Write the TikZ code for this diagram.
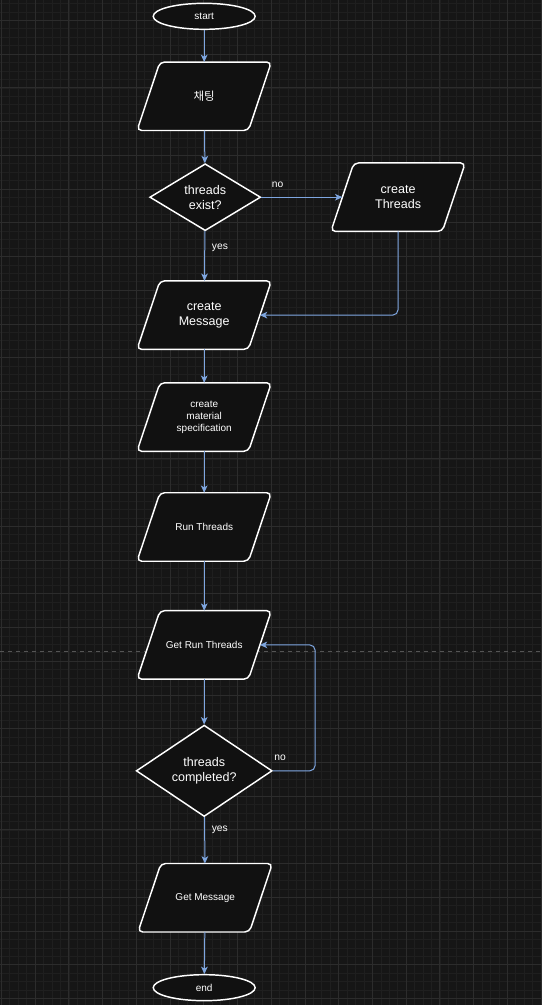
\documentclass[tikz,border=0pt]{standalone}
\usepackage{fontspec}
\setmainfont{Liberation Sans}
\newfontfamily\kofont{Noto Sans CJK KR}
\usetikzlibrary{shapes.geometric,arrows.meta}
\definecolor{canvas}{HTML}{161616}
\definecolor{gridminor}{HTML}{1F1F1F}
\definecolor{gridmajor}{HTML}{2C2C2C}
\definecolor{nodefill}{HTML}{111111}
\definecolor{flowblue}{HTML}{7EA6E0}
\definecolor{pagebreak}{HTML}{555555}
\pgfdeclarelayer{sheet}
\pgfdeclarelayer{boxes}
\pgfsetlayers{sheet,boxes,main}

\begin{document}
\begin{tikzpicture}[
    x=0.75pt, y=-0.75pt,     % one unit is one pixel of the reference
    every node/.style={text=white, align=center, inner sep=0pt},
    big/.style={font=\fontsize{9.4}{11.25}\selectfont},
    small/.style={font=\fontsize{7.5}{9}\selectfont},
    terminal/.style={ellipse, draw=white, fill=nodefill, line width=1.1pt,
        minimum width=76.5pt, minimum height=19.5pt, small},
    iobox/.style={rectangle, minimum width=83.25pt, minimum height=51pt},  % mid-height size, outline drawn below
    iooutline/.style={draw=white, fill=nodefill, line width=1.1pt, rounded corners=3.5pt},
    decision/.style={diamond, draw=white, fill=nodefill, line width=1.1pt, big},
    flow/.style={draw=flowblue, line width=0.75pt, rounded corners=4pt,
        -{Stealth[length=5.5pt,width=5pt,inset=1.5pt]}},
    lbl/.style={text=white, font=\fontsize{7.7}{9}\selectfont}
]
% canvas and grid
\begin{pgfonlayer}{sheet}
\fill[canvas] (0,0) rectangle (541,1005);
\foreach \i in {0,...,64}
    \draw[gridminor, line width=0.4pt] ({1+\i*8.4375},0) -- ({1+\i*8.4375},1005);
\foreach \j in {-2,...,116}
    \draw[gridminor, line width=0.4pt] (0,{20+\j*8.4375}) -- (541,{20+\j*8.4375});
\foreach \i in {0,...,16}
    \draw[gridmajor, line width=0.5pt] ({1+\i*33.75},0) -- ({1+\i*33.75},1005);
\foreach \j in {0,...,29}
    \draw[gridmajor, line width=0.5pt] (0,{20+\j*33.75}) -- (541,{20+\j*33.75});
\draw[pagebreak, dashed, line width=0.5pt] (0,651) -- (541,651);
\end{pgfonlayer}

% nodes
\node[terminal] (start) at (204,16) {start};
\node[iobox, font=\kofont\fontsize{8.6}{10}\selectfont] (chat) at (204,96) {채팅};
\node[decision, minimum width=83.25pt, minimum height=50.25pt] (exist) at (205,197) {threads\\exist?};
\node[iobox, big] (mkthreads) at (398,197) {create\\Threads};
\node[iobox, big] (mkmsg) at (204,315) {create\\Message};
\node[iobox, small] (spec) at (204,417) {create\\material\\specification};
\node[iobox, small] (run) at (204,527) {Run Threads};
\node[iobox, small] (getrun) at (204,645) {Get Run Threads};
\node[decision, minimum width=102pt, minimum height=62.25pt] (done) at (204,771) {threads\\completed?};
\node[iobox, small] (getmsg) at (205,898) {Get Message};
\node[terminal] (end) at (204,988) {end};
\coordinate (back) at (315,645);

% slanted outlines of the input/output boxes
\begin{pgfonlayer}{boxes}
\foreach \n in {chat,mkthreads,mkmsg,spec,run,getrun,getmsg}
    \draw[iooutline] ([xshift=-8.6pt]\n.south west) -- ([xshift=8.6pt]\n.north west)
        -- ([xshift=8.6pt]\n.north east) -- ([xshift=-8.6pt]\n.south east) -- cycle;
\end{pgfonlayer}

% connectors
\draw[flow] (start) -- (chat);
\draw[flow] (chat) -- (exist);
\draw[flow] (exist) -- node[lbl, pos=0.2, above=7pt] {no} (mkthreads);
\draw[flow] (exist) -- node[lbl, pos=0.33, right=5pt] {yes} (mkmsg);
\draw[flow] (mkthreads.south) |- (mkmsg.east);
\draw[flow] (mkmsg) -- (spec);
\draw[flow] (spec) -- (run);
\draw[flow] (run) -- (getrun);
\draw[flow] (getrun) -- (done);
\draw[flow] (done.east) -- node[lbl, pos=0.17, above=7pt] {no} (done.east -| back) -- (back) -- (getrun.east);
\draw[flow] (done) -- node[lbl, pos=0.27, right=5pt] {yes} (getmsg);
\draw[flow] (getmsg) -- (end);
\end{tikzpicture}
\end{document}
